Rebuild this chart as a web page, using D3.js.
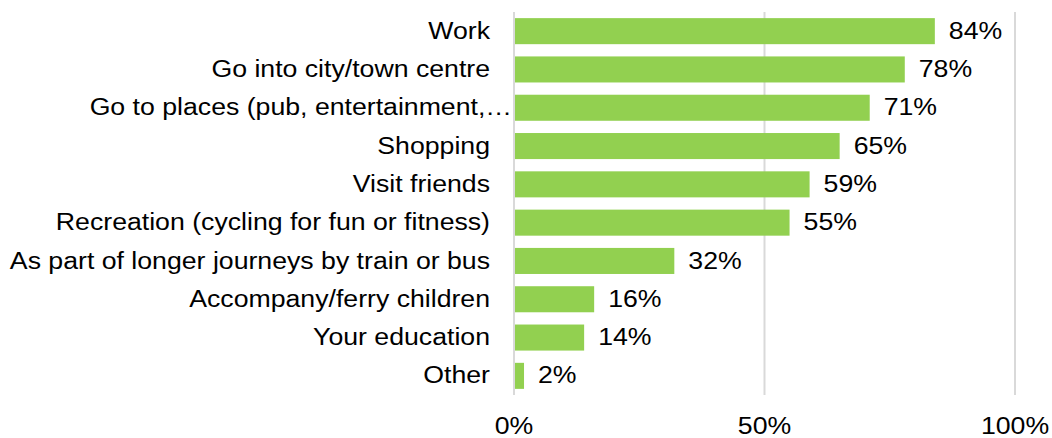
<!DOCTYPE html>
<html>
<head>
<meta charset="utf-8">
<script src="https://cdn.jsdelivr.net/npm/d3@7"></script>
<style>
  html, body { margin: 0; padding: 0; background: #fff; }
  svg { display: block; font-family: "Liberation Sans", Arial, sans-serif; }
</style>
</head>
<body>
<svg id="chart" width="1052" height="438"></svg>
<script>
// Reasons for cycling (share of respondents)
const categories = [
  "Work",
  "Go into city/town centre",
  "Go to places (pub, entertainment,\u2026",
  "Shopping",
  "Visit friends",
  "Recreation (cycling for fun or fitness)",
  "As part of longer journeys by train or bus",
  "Accompany/ferry children",
  "Your education",
  "Other"
];
const values = [84, 78, 71, 65, 59, 55, 32, 16, 14, 2];
const tickValues = [0, 50, 100];

const svg = d3.select("#chart");
const margin = { left: 514, right: 37, top: 12, bottom: 43 };
const W = 1052, H = 438;
const FONT = 23, STRETCH = 1.16;

const x = d3.scaleLinear().domain([0, 100]).range([margin.left, W - margin.right]);
const y = d3.scaleBand().domain(categories)
  .range([margin.top, H - margin.bottom]).paddingInner(0.32).paddingOuter(0.16);

// place a slightly wide text at (px, py)
const place = (px, py) => `translate(${px},${py}) scale(${STRETCH},1)`;

// vertical gridlines
svg.append("g").selectAll("line").data(tickValues).join("line")
  .attr("x1", d => x(d)).attr("x2", d => x(d))
  .attr("y1", margin.top).attr("y2", H - margin.bottom)
  .attr("stroke", "#d9d9d9").attr("stroke-width", 2);

// x-axis tick labels
svg.append("g").selectAll("text").data(tickValues).join("text")
  .attr("transform", d => place(x(d), 434))
  .attr("text-anchor", "middle")
  .attr("font-size", FONT).attr("fill", "#000")
  .text(d => d + "%");

// bars
svg.append("g").selectAll("rect").data(values).join("rect")
  .attr("x", x(0) + 1)
  .attr("y", (d, i) => y(categories[i]))
  .attr("width", d => x(d) - x(0) - 1)
  .attr("height", y.bandwidth())
  .attr("fill", "#92d050");

// value labels
svg.append("g").selectAll("text").data(values).join("text")
  .attr("transform", (d, i) => place(x(d) + 14, y(categories[i]) + y.bandwidth() / 2))
  .attr("dy", "0.33em")
  .attr("font-size", FONT).attr("fill", "#000")
  .text(d => d + "%");

// category labels (truncated labels run right up to the axis)
svg.append("g").selectAll("text").data(categories).join("text")
  .attr("transform", d => place(x(0) - (d.endsWith("\u2026") ? 2 : 24), y(d) + y.bandwidth() / 2))
  .attr("dy", "0.33em")
  .attr("text-anchor", "end")
  .attr("font-size", FONT).attr("fill", "#000")
  .text(d => d);
</script>
</body>
</html>
